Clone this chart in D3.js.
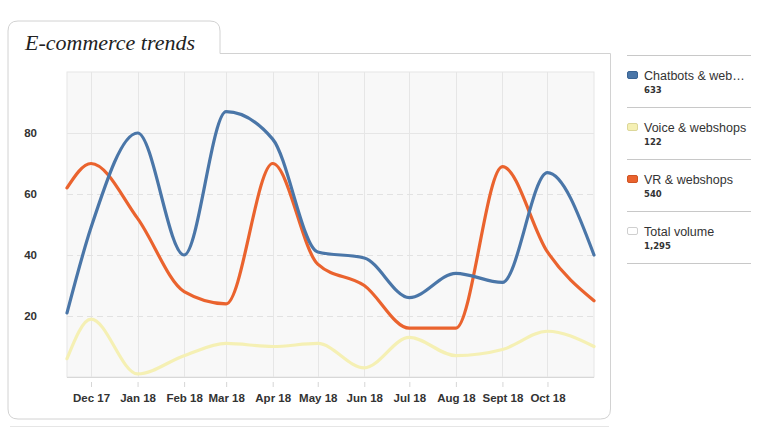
<!DOCTYPE html>
<html>
<head>
<meta charset="utf-8">
<script src="https://cdn.jsdelivr.net/npm/d3@7"></script>
<style>
  body { margin: 0; background: #fff; }
  svg text { font-family: "Liberation Sans", Arial, sans-serif; }
</style>
</head>
<body>
<div id="chart"></div>
<script>
// data
var dates = ["2017-11-15", "2017-12-01", "2018-01-01", "2018-02-01", "2018-03-01", "2018-04-01",
  "2018-05-01", "2018-06-01", "2018-07-01", "2018-08-01", "2018-09-01", "2018-10-01", "2018-11-01"];
var tickDates = ["2017-12-01", "2018-01-01", "2018-02-01", "2018-03-01", "2018-04-01", "2018-05-01",
  "2018-06-01", "2018-07-01", "2018-08-01", "2018-09-01", "2018-10-01"];
var tickLabels = ["Dec 17", "Jan 18", "Feb 18", "Mar 18", "Apr 18", "May 18",
  "Jun 18", "Jul 18", "Aug 18", "Sept 18", "Oct 18"];
var chatbots = [21, 49, 80, 40, 87, 78, 41, 39, 26, 34, 31, 67, 40];
var voice = [6, 19, 1, 7, 11, 10, 11, 3, 13, 7, 9, 15, 10];
var vr = [62, 70, 52, 28, 24, 70, 37, 30, 16, 16, 69, 41, 25];
var yTicks = [20, 40, 60, 80];
var legendNames = ["Chatbots & web\u2026", "Voice & webshops", "VR & webshops", "Total volume"];
var legendTotals = ["633", "122", "540", "1,295"];

var width = 760, height = 428;
var plot = { left: 67, right: 594, top: 72, bottom: 377 };
var colors = ["#4a76a8", "#f5f0b4", "#ea632e", "#ffffff"];
var swatchStroke = ["#3a6494", "#dcd79a", "#cf5424", "#cfcfcf"];

var parse = d3.timeParse("%Y-%m-%d");

var svg = d3.select("#chart")
  .append("svg")
  .attr("width", width)
  .attr("height", height);

// card with tab
var r = 10;
var card = `M8,${419 - r} L8,${21 + r} Q8,21 ${8 + r},21 L${220 - r},21 Q220,21 220,${21 + r}
  L220,53.5 L610.5,53.5 L610.5,${419 - r} Q610.5,419 ${610.5 - r},419 L${8 + r},419 Q8,419 8,${419 - r} Z`;
svg.append("line")
  .attr("x1", 10).attr("x2", 609)
  .attr("y1", 426.5).attr("y2", 426.5)
  .attr("stroke", "#e6e6e6");
svg.append("path")
  .attr("d", card)
  .attr("fill", "#fff")
  .attr("stroke", "#d2d2d2");

svg.append("text")
  .text("E-commerce trends")
  .attr("x", 25)
  .attr("y", 50)
  .attr("font-size", "22px")
  .style("font-family", "'Liberation Serif', 'DejaVu Serif', serif")
  .style("font-style", "italic")
  .attr("fill", "#222");

// scales
var xScale = d3.scaleTime()
  .domain([parse(dates[0]), parse(dates[dates.length - 1])])
  .range([plot.left, plot.right]);

var yScale = d3.scaleLinear()
  .domain([0, 100])
  .range([plot.bottom, plot.top]);

// plot background
svg.append("rect")
  .attr("x", plot.left)
  .attr("y", plot.top)
  .attr("width", plot.right - plot.left)
  .attr("height", plot.bottom - plot.top)
  .attr("fill", "#f8f8f8")
  .attr("stroke", "#e6e6e6");

// vertical grid
svg.selectAll("vgrid")
  .data(tickDates)
  .enter()
  .append("line")
  .attr("x1", d => Math.round(xScale(parse(d))) + 0.5)
  .attr("x2", d => Math.round(xScale(parse(d))) + 0.5)
  .attr("y1", plot.top)
  .attr("y2", plot.bottom)
  .attr("stroke", "#e6e6e6");

// horizontal grid (top one solid, the others dashed)
svg.selectAll("hgrid")
  .data(yTicks)
  .enter()
  .append("line")
  .attr("x1", plot.left)
  .attr("x2", plot.right)
  .attr("y1", d => Math.round(yScale(d)) + 0.5)
  .attr("y2", d => Math.round(yScale(d)) + 0.5)
  .attr("stroke", d => d === 80 ? "#e6e6e6" : "#e2e2e2")
  .attr("stroke-dasharray", d => d === 80 ? null : "6,4");

svg.append("line")
  .attr("x1", plot.left).attr("x2", plot.right)
  .attr("y1", plot.bottom + 0.5).attr("y2", plot.bottom + 0.5)
  .attr("stroke", "#d8d8d8");

// x axis
var xAxis = d3.axisBottom(xScale)
  .tickValues(tickDates.map(parse))
  .tickSize(5)
  .tickPadding(7)
  .tickFormat((d, i) => tickLabels[i]);

svg.append("g")
  .attr("transform", `translate(0, ${plot.bottom + 5})`)
  .attr("class", "x-axis")
  .call(xAxis)
  .call(g => g.select(".domain").remove())
  .call(g => g.selectAll("line").attr("stroke", "#d6d6d6"))
  .selectAll("text")
  .attr("font-size", "11.5px")
  .attr("font-weight", "bold")
  .attr("fill", "#333");

// y axis
var yAxis = d3.axisLeft(yScale)
  .tickValues(yTicks)
  .tickSize(0)
  .tickPadding(0);

svg.append("g")
  .attr("transform", `translate(37, 0)`)
  .attr("class", "y-axis")
  .call(yAxis)
  .call(g => g.select(".domain").remove())
  .selectAll("text")
  .attr("font-size", "11.5px")
  .attr("font-weight", "bold")
  .attr("fill", "#333");

// lines
var line = d3.line()
  .x((d, i) => xScale(parse(dates[i])))
  .y(d => yScale(d))
  .curve(d3.curveMonotoneX);

var series = [voice, vr, chatbots];
var seriesColors = [colors[1], colors[2], colors[0]];

svg.selectAll("series")
  .data(series)
  .enter()
  .append("path")
  .attr("d", d => line(d))
  .attr("fill", "none")
  .attr("stroke", (d, i) => seriesColors[i])
  .attr("stroke-width", 3.2)
  .attr("stroke-linejoin", "round")
  .attr("stroke-linecap", "round");

// legend
var legend = svg.append("g").attr("class", "legend");
var rowH = 52;

legend.selectAll("divider")
  .data(d3.range(legendNames.length + 1))
  .enter()
  .append("line")
  .attr("x1", 627).attr("x2", 751)
  .attr("y1", d => 55.5 + d * rowH)
  .attr("y2", d => 55.5 + d * rowH)
  .attr("stroke", "#c8c8c8");

var items = legend.selectAll("item")
  .data(legendNames)
  .enter()
  .append("g")
  .attr("transform", (d, i) => `translate(627, ${55 + i * rowH})`);

items.append("rect")
  .attr("x", 0.5)
  .attr("y", 16.5)
  .attr("width", 10)
  .attr("height", 7)
  .attr("rx", 1.5)
  .attr("fill", (d, i) => colors[i])
  .attr("stroke", (d, i) => swatchStroke[i]);

items.append("text")
  .text(d => d)
  .attr("x", 17)
  .attr("y", 25)
  .attr("font-size", "12.5px")
  .attr("fill", "#333");

items.append("text")
  .text((d, i) => legendTotals[i])
  .attr("x", 17)
  .attr("y", 38)
  .attr("font-size", "8.5px")
  .attr("font-weight", "bold")
  .style("font-family", "'DejaVu Sans', sans-serif")
  .attr("fill", "#333");
</script>
</body>
</html>
